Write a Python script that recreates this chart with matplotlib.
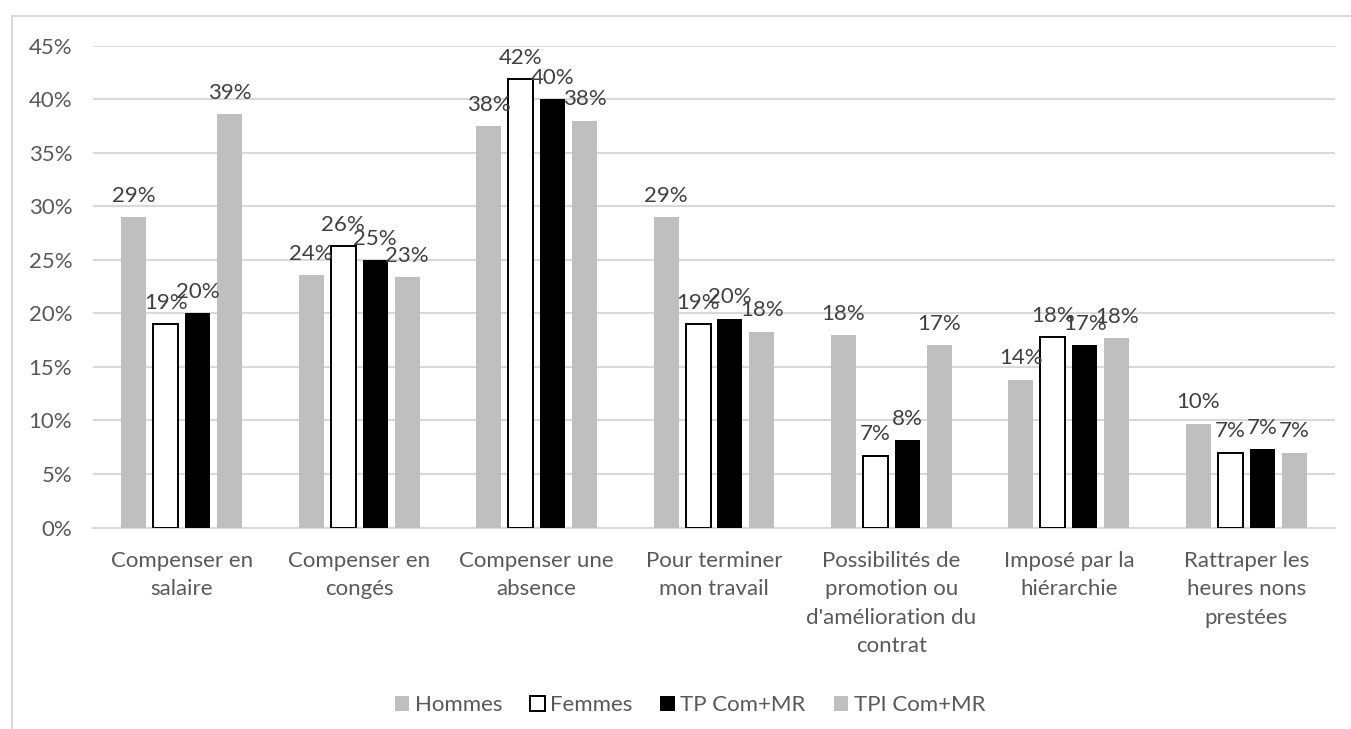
import matplotlib.pyplot as plt
import numpy as np
from matplotlib.patches import Rectangle

plt.rcParams["font.family"] = ["Lato", "DejaVu Sans"]

categories = [
    "Compenser en\nsalaire",
    "Compenser en\ncongés",
    "Compenser une\nabsence",
    "Pour terminer\nmon travail",
    "Possibilités de\npromotion ou\nd'amélioration du\ncontrat",
    "Imposé par la\nhiérarchie",
    "Rattraper les\nheures nons\nprestées",
]
hommes = [29.0, 23.6, 37.5, 29.0, 18.0, 13.8, 9.7]
femmes = [19.0, 26.3, 41.9, 19.0, 6.7, 17.8, 7.0]
tp_com_mr = [20.0, 25.0, 40.0, 19.5, 8.15, 17.0, 7.35]
tpi_com_mr = [38.6, 23.4, 38.0, 18.3, 17.0, 17.7, 7.0]

series = [
    ("Hommes", hommes, "#BFBFBF", "none", 0),
    ("Femmes", femmes, "#FFFFFF", "#000000", 1.4),
    ("TP Com+MR", tp_com_mr, "#000000", "none", 0),
    ("TPI Com+MR", tpi_com_mr, "#BFBFBF", "none", 0),
]

W, H = 1351, 729
fig = plt.figure(figsize=(W / 100, H / 100), dpi=100)
ax = fig.add_axes([93 / W, 1 - 527.5 / H, (1335 - 93) / W, (527.5 - 45.7) / H])

# chart area frame (cropped at right and bottom)
fig.patches.append(Rectangle((12 / W, -0.2), 2.0, 1.2 - 16 / H, transform=fig.transFigure,
                             facecolor="none", edgecolor="#D9D9D9", linewidth=1.5))

x = np.arange(len(categories))
step = 0.18
width = 0.141
for i, (name, vals, fc, ec, lw) in enumerate(series):
    vals = np.array(vals) / 100
    pos = x + (i - 1.5) * step
    ax.bar(pos, vals, width, color=fc, edgecolor=ec, linewidth=lw, label=name, zorder=3)
    for p, v in zip(pos, vals):
        ax.annotate(f"{round(v * 100):.0f}%", (p, v), xytext=(0, 11), textcoords="offset points",
                    ha="center", va="baseline", fontsize=16, color="#404040", zorder=4)

ax.set_xlim(-0.5, len(categories) - 0.5)
ax.set_ylim(0, 0.45)
yt = np.arange(0, 0.451, 0.05)
ax.set_yticks(yt, [f"{int(round(t * 100))}%" for t in yt])
ax.set_xticks(x, categories)
ax.tick_params(axis="both", length=0, labelsize=16, labelcolor="#595959")
ax.tick_params(axis="y", pad=15)
ax.tick_params(axis="x", pad=17)
for lab in ax.get_xticklabels():
    lab.set_linespacing(1.52)
ax.grid(axis="y", color="#D9D9D9", linewidth=1.5, zorder=0)
for s in ["top", "right", "left"]:
    ax.spines[s].set_visible(False)
ax.spines["bottom"].set_color("#D9D9D9")
ax.spines["bottom"].set_linewidth(1.5)

handles, labels = ax.get_legend_handles_labels()
fig.legend(handles, labels, loc="center", bbox_to_anchor=(690 / W, 1 - 705 / H), ncols=4,
           frameon=False, fontsize=16, labelcolor="#595959", handlelength=0.65, handleheight=0.65,
           handletextpad=0.25, columnspacing=1.25)

fig.savefig("out.png", dpi=100)
